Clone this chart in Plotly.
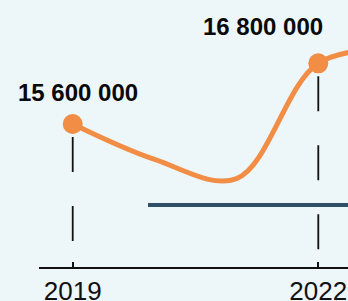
import plotly.graph_objects as go

# Data
years = [2019, 2020, 2021, 2022, 2023]
values = [15600000, 14900000, 14520000, 16800000, 17080000]
label_years = [2019, 2022]
label_values = [15600000, 16800000]
ref_x = [2019.92, 2023]
ref_y = [14000000, 14000000]
tick_years = [2019, 2022]
tick_text = ["2019", "2022"]
floor_value = 12773000

ORANGE = "#F28D45"
BG = "#EDF6F9"

fig = go.Figure()

# reference horizontal line
fig.add_trace(go.Scatter(x=ref_x, y=ref_y, mode="lines",
                         line=dict(color="#2F4F66", width=4),
                         hoverinfo="skip", showlegend=False))

# dashed drop lines
for xv, yv in zip(label_years, label_values):
    fig.add_trace(go.Scatter(x=[xv, xv], y=[yv, floor_value], mode="lines",
                             line=dict(color="#111111", width=1.8, dash="0px,13px,35px,21px"),
                             hoverinfo="skip", showlegend=False))

# main line
fig.add_trace(go.Scatter(x=years, y=values, mode="lines",
                         line=dict(color=ORANGE, width=5, shape="spline", smoothing=1),
                         hoverinfo="skip", showlegend=False))

# markers
fig.add_trace(go.Scatter(x=label_years, y=label_values, mode="markers",
                         marker=dict(color=ORANGE, size=20, line=dict(width=0)),
                         hoverinfo="skip", showlegend=False, cliponaxis=False))

shifts = [(5, 31.5), (-55, 37)]
for (xv, yv), (xs, ys) in zip(zip(label_years, label_values), shifts):
    fig.add_annotation(x=xv, y=yv, text=f"{yv:,}".replace(",", " "),
                       showarrow=False, xanchor="center", yanchor="middle",
                       xshift=xs, yshift=ys,
                       font=dict(family="Liberation Sans, Arial, sans-serif", size=24,
                                 color="#0A0A0A", weight="bold"))

fig.update_layout(
    width=348, height=301,
    margin=dict(l=39, r=0, t=0, b=34),
    paper_bgcolor=BG, plot_bgcolor=BG,
    showlegend=False,
    xaxis=dict(range=[2018.588, 2022.363], showgrid=False, zeroline=False,
               showline=True, linecolor="#111111", linewidth=2, automargin=False,
               ticks="inside", ticklen=5, tickwidth=2, tickcolor="#111111",
               tickvals=tick_years, ticktext=tick_text, ticklabelstandoff=0,
               tickfont=dict(family="Liberation Sans, Arial", size=26,
                             color="#111111")),
    yaxis=dict(range=[floor_value, 18052000], showgrid=False, zeroline=False,
               showline=False, showticklabels=False, ticks="", automargin=False),
)

fig.write_html("out.html", config={"displayModeBar": False, "staticPlot": True},
               post_script="document.body.style.margin='0';document.body.style.background='%s';" % BG)
